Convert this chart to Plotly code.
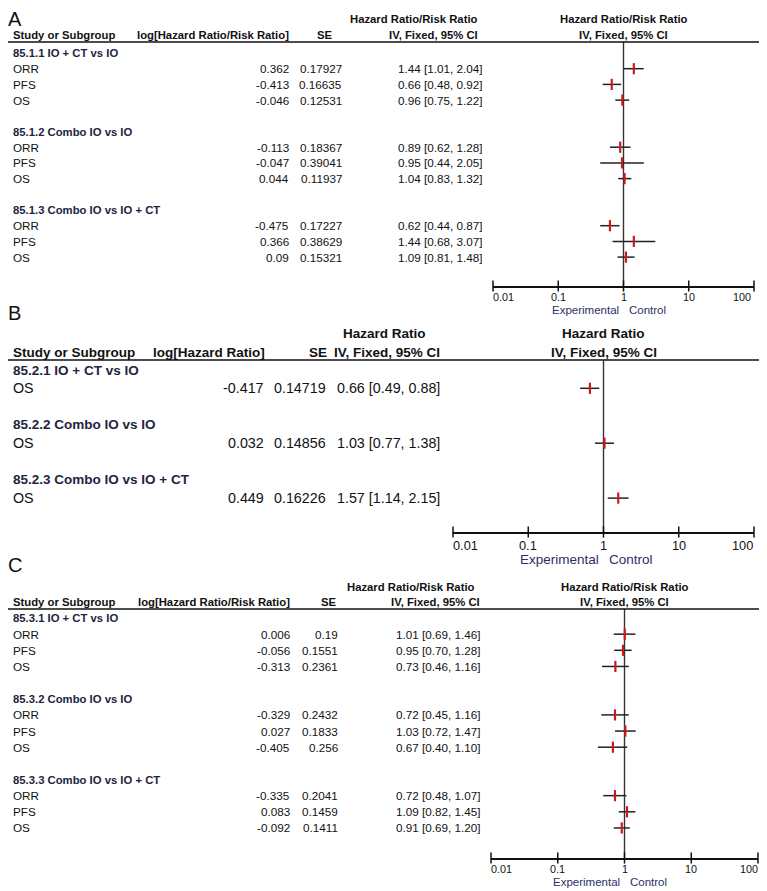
import math
import plotly.graph_objects as go

# the page body keeps its default 8px margin, so the figure starts at (8, 8)
OX, OY = 8, 8
FW, FH = 767 - OX, 891 - OY
FONT = "Liberation Sans, Arial, sans-serif"
INK = "#111111"
HEAD_INK = "#1e2440"
LAB_INK = "#2b2f66"
RED = "#cc1a1a"

# ---- panel A: HR/RR, three subgroups x three outcomes
a_groups = ["85.1.1 IO + CT vs IO", "85.1.2 Combo IO vs IO", "85.1.3 Combo IO vs IO + CT"]
a_outcomes = ["ORR", "PFS", "OS"]
a_log = [0.362, -0.413, -0.046, -0.113, -0.047, 0.044, -0.475, 0.366, 0.09]
a_se = ["0.17927", "0.16635", "0.12531", "0.18367", "0.39041", "0.11937", "0.17227", "0.38629", "0.15321"]
a_hr = [1.44, 0.66, 0.96, 0.89, 0.95, 1.04, 0.62, 1.44, 1.09]
a_lo = [1.01, 0.48, 0.75, 0.62, 0.44, 0.83, 0.44, 0.68, 0.81]
a_hi = [2.04, 0.92, 1.22, 1.28, 2.05, 1.32, 0.87, 3.07, 1.48]

# ---- panel B: HR, OS only
b_groups = ["85.2.1 IO + CT vs IO", "85.2.2 Combo IO vs IO", "85.2.3 Combo IO vs IO + CT"]
b_outcomes = ["OS"]
b_log = [-0.417, 0.032, 0.449]
b_se = ["0.14719", "0.14856", "0.16226"]
b_hr = [0.66, 1.03, 1.57]
b_lo = [0.49, 0.77, 1.14]
b_hi = [0.88, 1.38, 2.15]

# ---- panel C
c_groups = ["85.3.1 IO + CT vs IO", "85.3.2 Combo IO vs IO", "85.3.3 Combo IO vs IO + CT"]
c_outcomes = ["ORR", "PFS", "OS"]
c_log = [0.006, -0.056, -0.313, -0.329, 0.027, -0.405, -0.335, 0.083, -0.092]
c_se = ["0.19", "0.1551", "0.2361", "0.2432", "0.1833", "0.256", "0.2041", "0.1459", "0.1411"]
c_hr = [1.01, 0.95, 0.73, 0.72, 1.03, 0.67, 0.72, 1.09, 0.91]
c_lo = [0.69, 0.70, 0.46, 0.45, 0.72, 0.40, 0.48, 0.82, 0.69]
c_hi = [1.46, 1.28, 1.16, 1.16, 1.47, 1.10, 1.07, 1.45, 1.20]

tick_vals = [0.01, 0.1, 1, 10, 100]
tick_text = ["0.01", "0.1", "1", "10", "100"]


def px(x):
    return (x - OX) / FW


def py(y):
    return 1 - (y - OY) / FH


panels = [
    dict(letter="A", groups=a_groups, outcomes=a_outcomes, log=a_log, se=a_se, hr=a_hr, lo=a_lo, hi=a_hi,
         top=OY, letter_y=19, head1_y=19, head2_y=35, rule_y=42, row0=53, step=15.7, axis_y=286,
         tick_y=297, exp_y=310, last_shift=-3,
         fx0=493, fx1=754, col_log=289, col_se=342, col_ci=482,
         h_log="log[Hazard Ratio/Risk Ratio]", h_log_x=289, h_se_x=333,
         h_ci1=("Hazard Ratio/Risk Ratio", 478, "right"), h_ci2=("IV, Fixed, 95% CI", 478, "right"),
         h_f1="Hazard Ratio/Risk Ratio", bold=11.3, reg=11.7, tick=10.8, exp=11.5),
    dict(letter="B", groups=b_groups, outcomes=b_outcomes, log=b_log, se=b_se, hr=b_hr, lo=b_lo, hi=b_hi,
         top=298, letter_y=313, head1_y=333, head2_y=352, rule_y=360, row0=370, step=18.3, axis_y=532,
         tick_y=545, exp_y=559, last_shift=-1,
         fx0=453, fx1=754, col_log=264, col_se=326, col_ci=440,
         h_log="log[Hazard Ratio]", h_log_x=265, h_se_x=327,
         h_ci1=("Hazard Ratio", 343, "left"), h_ci2=("IV, Fixed, 95% CI", 440, "right"),
         h_f1="Hazard Ratio", bold=13.5, reg=14.3, tick=12.8, exp=13.5),
    dict(letter="C", groups=c_groups, outcomes=c_outcomes, log=c_log, se=c_se, hr=c_hr, lo=c_lo, hi=c_hi,
         top=555, letter_y=565, head1_y=587, head2_y=602, rule_y=609, row0=618, step=16.15, axis_y=858,
         tick_y=869, exp_y=882, last_shift=0,
         fx0=491, fx1=758, col_log=290, col_se=338, col_ci=480,
         h_log="log[Hazard Ratio/Risk Ratio]", h_log_x=290, h_se_x=337,
         h_ci1=("Hazard Ratio/Risk Ratio", 475, "right"), h_ci2=("IV, Fixed, 95% CI", 480, "right"),
         h_f1="Hazard Ratio/Risk Ratio", bold=11.3, reg=11.7, tick=10.8, exp=11.5),
]

fig = go.Figure()
annotations = []
shapes = []
layout_axes = {}


def note(text, x, y, xanchor, size, yref="paper", xref="paper", color=INK, bold=False, xshift=0):
    annotations.append(dict(
        text=f"<b>{text}</b>" if bold else text, x=x, y=y, xref=xref, yref=yref,
        xanchor=xanchor, yanchor="middle", showarrow=False, xshift=xshift,
        borderpad=0, borderwidth=0,
        font=dict(family=FONT, size=size, color=color),
    ))


for k, P in enumerate(panels):
    sfx = "" if k == 0 else str(k + 1)
    xa, ya = "x" + sfx, "y" + sfx

    def to_row(pix, P=P):
        return (pix - P["row0"]) / P["step"]

    # row index for every outcome: header row, outcomes, blank row per subgroup
    rows, labels = [], []
    r = 0
    for gname in P["groups"]:
        note(gname, px(13), r, "left", P["bold"], yref=ya, color=HEAD_INK, bold=True)
        r += 1
        for name in P["outcomes"]:
            rows.append(r)
            labels.append(name)
            r += 1
        r += 1

    for i, row in enumerate(rows):
        note(labels[i], px(13), row, "left", P["reg"], yref=ya)
        note(str(P["log"][i]), px(P["col_log"]), row, "right", P["reg"], yref=ya)
        note(P["se"][i], px(P["col_se"]), row, "right", P["reg"], yref=ya)
        note(f"{P['hr'][i]:.2f} [{P['lo'][i]:.2f}, {P['hi'][i]:.2f}]", px(P["col_ci"]), row, "right",
             P["reg"], yref=ya)

    # column headers
    note(P["letter"], px(OX), py(P["letter_y"]), "left", 20)
    note("Study or Subgroup", px(13), py(P["head2_y"]), "left", P["bold"], bold=True)
    note(P["h_log"], px(P["h_log_x"]), py(P["head2_y"]), "right", P["bold"], bold=True)
    note("SE", px(P["h_se_x"]), py(P["head2_y"]), "right", P["bold"], bold=True)
    t1, x1, a1 = P["h_ci1"]
    note(t1, px(x1), py(P["head1_y"]), a1, P["bold"], bold=True)
    t2, x2, a2 = P["h_ci2"]
    note(t2, px(x2), py(P["head2_y"]), a2, P["bold"], bold=True)
    note(P["h_f1"], 0, py(P["head1_y"]), "center", P["bold"], xref=xa, bold=True)
    note("IV, Fixed, 95% CI", 0, py(P["head2_y"]), "center", P["bold"], xref=xa, bold=True)
    note("Experimental", 0, py(P["exp_y"]), "right", P["exp"], xref=xa, color=LAB_INK, xshift=-5)
    note("Control", 0, py(P["exp_y"]), "left", P["exp"], xref=xa, color=LAB_INK, xshift=5)

    # tick labels: the end labels sit inside the axis span, as in RevMan
    for j, (tv, tt) in enumerate(zip(tick_vals, tick_text)):
        if j == 0:
            anchor, shift = "left", 0
        elif j == len(tick_vals) - 1:
            anchor, shift = "right", P["last_shift"]
        else:
            anchor, shift = "center", 0
        note(tt, math.log10(tv), py(P["tick_y"]), anchor, P["tick"], xref=xa, xshift=shift)

    shapes.append(dict(type="line", xref="paper", yref="paper", x0=px(OX), x1=px(762),
                       y0=py(P["rule_y"]), y1=py(P["rule_y"]), line=dict(color=INK, width=1.6)))

    # line of no effect
    fig.add_trace(go.Scatter(
        x=[1, 1], y=[to_row(P["rule_y"]), to_row(P["axis_y"])], xaxis=xa, yaxis=ya,
        mode="lines", line=dict(color="#333333", width=1.4), hoverinfo="skip",
        showlegend=False, cliponaxis=False,
    ))

    # tick marks crossing the axis line
    fig.add_trace(go.Scatter(
        x=tick_vals, y=[to_row(P["axis_y"])] * len(tick_vals), xaxis=xa, yaxis=ya,
        mode="markers", marker=dict(symbol="line-ns", size=8, line=dict(color=INK, width=1.5)),
        hoverinfo="skip", showlegend=False, cliponaxis=False,
    ))

    # estimates with CI
    fig.add_trace(go.Scatter(
        x=P["hr"], y=rows, xaxis=xa, yaxis=ya, mode="markers", showlegend=False,
        marker=dict(symbol="line-ns", size=8, line=dict(color=RED, width=2.2)),
        error_x=dict(type="data", symmetric=False,
                     array=[h - e for h, e in zip(P["hi"], P["hr"])],
                     arrayminus=[e - l for e, l in zip(P["hr"], P["lo"])],
                     color="#222222", thickness=1.5, width=0),
        cliponaxis=False,
    ))

    layout_axes["xaxis" + sfx] = dict(
        type="log", range=[-2, 2], domain=[px(P["fx0"]), px(P["fx1"])], anchor=ya,
        showticklabels=False, ticks="", showline=True, linecolor=INK, linewidth=1.6,
        showgrid=False, zeroline=False, automargin=False,
    )
    layout_axes["yaxis" + sfx] = dict(
        domain=[py(P["axis_y"]), py(P["top"])],
        range=[to_row(P["axis_y"]), to_row(P["top"])],
        visible=False, showgrid=False, zeroline=False, automargin=False, anchor=xa,
    )

fig.update_layout(
    width=FW, height=FH, autosize=False,
    margin=dict(l=0, r=0, t=0, b=0, pad=0),
    paper_bgcolor="white", plot_bgcolor="white",
    annotations=annotations, shapes=shapes,
    showlegend=False,
    **layout_axes,
)

fig.write_html("out.html")
